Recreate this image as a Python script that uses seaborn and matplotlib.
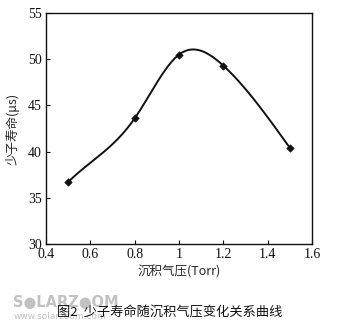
import numpy as np
import pandas as pd
import matplotlib
matplotlib.use("Agg")
import matplotlib.pyplot as plt
import seaborn as sns

# Data
pressure = [0.5, 0.8, 1.0, 1.2, 1.5]          # Torr
lifetime = [36.7, 43.6, 50.5, 49.3, 40.4]     # microseconds
x_ticks = [0.4, 0.6, 0.8, 1.0, 1.2, 1.4, 1.6]
x_tick_labels = ["0.4", "0.6", "0.8", "1", "1.2", "1.4", "1.6"]
y_ticks = [30, 35, 40, 45, 50, 55]


def spline(x, y, xs, start_slope=None):
    """Cubic spline: clamped start (if given), natural end."""
    x = np.asarray(x, float); y = np.asarray(y, float)
    n = len(x)
    h = np.diff(x)
    A = np.zeros((n, n)); b = np.zeros(n)
    if start_slope is None:
        A[0, 0] = 1
    else:
        A[0, 0] = 2 * h[0]; A[0, 1] = h[0]
        b[0] = 3 * ((y[1] - y[0]) / h[0] - start_slope)
    A[-1, -1] = 1
    for i in range(1, n - 1):
        A[i, i - 1] = h[i - 1]
        A[i, i] = 2 * (h[i - 1] + h[i])
        A[i, i + 1] = h[i]
        b[i] = 3 * ((y[i + 1] - y[i]) / h[i] - (y[i] - y[i - 1]) / h[i - 1])
    c = np.linalg.solve(A, b)
    out = np.empty_like(xs)
    for k, xv in enumerate(xs):
        i = min(max(np.searchsorted(x, xv) - 1, 0), n - 2)
        bi = (y[i + 1] - y[i]) / h[i] - h[i] * (2 * c[i] + c[i + 1]) / 3
        di = (c[i + 1] - c[i]) / (3 * h[i])
        dx = xv - x[i]
        out[k] = y[i] + bi * dx + c[i] * dx ** 2 + di * dx ** 3
    return out


sns.set_style("ticks")
plt.rcParams["font.family"] = ["Liberation Serif", "Noto Sans CJK SC", "DejaVu Sans"]
plt.rcParams["xtick.direction"] = "in"
plt.rcParams["ytick.direction"] = "in"

fig = plt.figure(figsize=(3.37, 3.30), dpi=100)
ax = fig.add_axes([0.1365, 0.2606, 0.7895, 0.7000])

xs = np.linspace(pressure[0], pressure[-1], 300)
curve = pd.DataFrame({"x": xs, "y": spline(pressure, lifetime, xs, start_slope=24.0)})
pts = pd.DataFrame({"x": pressure, "y": lifetime})

sns.lineplot(data=curve, x="x", y="y", ax=ax, color="#111111", linewidth=1.4, sort=False)
sns.scatterplot(data=pts, x="x", y="y", ax=ax, color="#111111", marker="D", s=14,
                edgecolor="#111111", linewidth=0.5, zorder=3)

ax.set_xlim(0.4, 1.6)
ax.set_ylim(30, 55)
ax.set_xticks(x_ticks)
ax.set_xticklabels(x_tick_labels)
ax.set_yticks(y_ticks)
ax.tick_params(axis="both", labelsize=10, length=3, width=0.8, colors="#111111", pad=3)
for s in ax.spines.values():
    s.set_linewidth(1.0)
    s.set_color("#111111")

ax.set_xlabel("沉积气压(Torr)", fontsize=9, labelpad=3,
              family=["Noto Sans CJK SC", "Liberation Serif"])
ax.set_ylabel("少子寿命(μs)", fontsize=9, labelpad=6,
              family=["Noto Sans CJK SC", "Liberation Serif"])

fig.text(0.04, 0.082, "S●LARZ●OM", ha="left", va="center", fontsize=10.5,
         fontweight="bold", color="#a8a8a8", family="DejaVu Sans", alpha=0.7)
fig.text(0.04, 0.040, "www.solarzoom.com", ha="left", va="center", fontsize=6.5,
         color="#a8a8a8", family="DejaVu Sans", alpha=0.7)
fig.text(0.505, 0.052, "图2  少子寿命随沉积气压变化关系曲线", ha="center", va="center",
         fontsize=9.5, family=["Noto Sans CJK SC", "DejaVu Sans"], color="#111111")

fig.savefig("out.png", dpi=100, facecolor="white")
